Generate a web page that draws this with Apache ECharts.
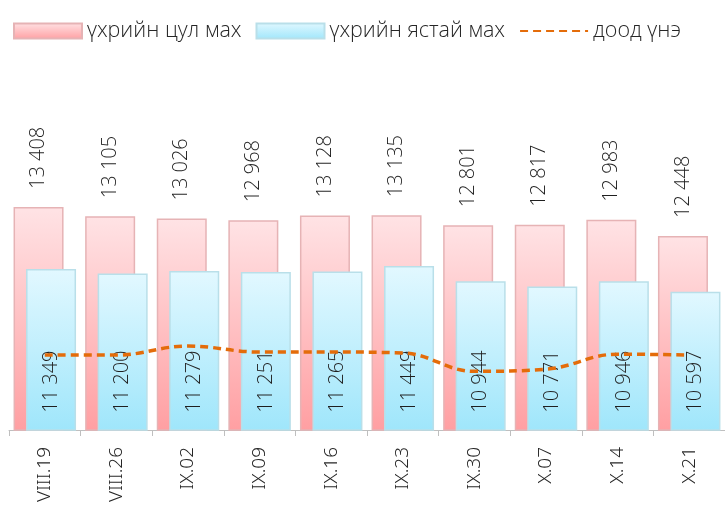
<!DOCTYPE html>
<html>
<head>
<meta charset="utf-8">
<script src="https://cdn.jsdelivr.net/npm/echarts@6/dist/echarts.min.js"></script>
<style>
  html, body { margin: 0; padding: 0; background: #fff; }
  #chart { width: 725px; height: 506px; }
</style>
</head>
<body>
<div id="chart"></div>
<script>
  // weekly dates
  var categories = ['VIII.19', 'VIII.26', 'IX.02', 'IX.09', 'IX.16', 'IX.23', 'IX.30', 'X.07', 'X.14', 'X.21'];
  var tsulData = [13408, 13105, 13026, 12968, 13128, 13135, 12801, 12817, 12983, 12448];
  var yastaiData = [11349, 11200, 11279, 11251, 11265, 11449, 10944, 10771, 10946, 10597];
  // no labels on the line, read from position
  var doodData = [8490, 8490, 8790, 8590, 8590, 8560, 7950, 8020, 8520, 8490];

  var fmt = function (p) {
    return String(p.value).replace(/\B(?=(\d{3})+(?!\d))/g, ' ');
  };

  var myChart = echarts.init(document.getElementById('chart'));
  var option = {
    animation: false,
    textStyle: { fontFamily: 'Open Sans' },
    legend: {
      left: 8,
      top: 15,
      itemWidth: 68,
      itemHeight: 15,
      itemGap: 14,
      textStyle: { fontSize: 21.5, color: '#262626', fontFamily: 'Open Sans', fontWeight: 350 },
      data: [
        { name: 'үхрийн цул мах', icon: 'rect' },
        { name: 'үхрийн ястай мах', icon: 'rect' },
        { name: 'доод үнэ', itemStyle: { color: 'rgba(0,0,0,0)', borderWidth: 0 } }
      ]
    },
    grid: {
      left: 9,
      right: 0,
      top: 129,
      bottom: 76
    },
    xAxis: {
      type: 'category',
      data: categories,
      axisLine: { lineStyle: { color: '#bfbfbf' } },
      axisTick: { show: true, length: 6, lineStyle: { color: '#bfbfbf' } },
      axisLabel: {
        rotate: 90,
        interval: 0,
        margin: 17,
        color: '#262626',
        fontSize: 19,
        fontWeight: 300,
        fontFamily: 'Noto Sans'
      }
    },
    yAxis: {
      type: 'value',
      min: 6000,
      max: 16000,
      show: false,
      splitLine: { show: false }
    },
    series: [
      {
        name: 'үхрийн цул мах',
        type: 'bar',
        barWidth: 50,
        barGap: '-75%',
        itemStyle: {
          borderColor: '#e6b3b5',
          borderWidth: 1.5,
          color: new echarts.graphic.LinearGradient(0, 0, 0, 1, [
            { offset: 0, color: '#ffe3e5' },
            { offset: 1, color: '#ff9fa2' }
          ])
        },
        label: {
          show: true,
          position: 'top',
          rotate: 90,
          align: 'left',
          verticalAlign: 'middle',
          distance: 18,
          fontSize: 20,
          fontWeight: 350,
          color: '#1f1f1f',
          formatter: fmt
        },
        data: tsulData
      },
      {
        name: 'үхрийн ястай мах',
        type: 'bar',
        barWidth: 50,
        itemStyle: {
          borderColor: '#b9dfe9',
          borderWidth: 1.5,
          color: new echarts.graphic.LinearGradient(0, 0, 0, 1, [
            { offset: 0, color: '#e2f8ff' },
            { offset: 1, color: '#9fe6fb' }
          ])
        },
        label: {
          show: true,
          position: 'insideBottom',
          rotate: 90,
          align: 'left',
          verticalAlign: 'middle',
          distance: 18,
          fontSize: 20,
          fontWeight: 350,
          color: '#1f1f1f',
          formatter: fmt
        },
        data: yastaiData
      },
      {
        name: 'доод үнэ',
        type: 'line',
        smooth: 0.4,
        symbol: 'none',
        lineStyle: { color: '#e46c0a', width: 3.5, type: [8, 5] },
        itemStyle: { color: '#e46c0a' },
        z: 5,
        data: doodData
      }
    ]
  };
  myChart.setOption(option);
</script>
</body>
</html>
